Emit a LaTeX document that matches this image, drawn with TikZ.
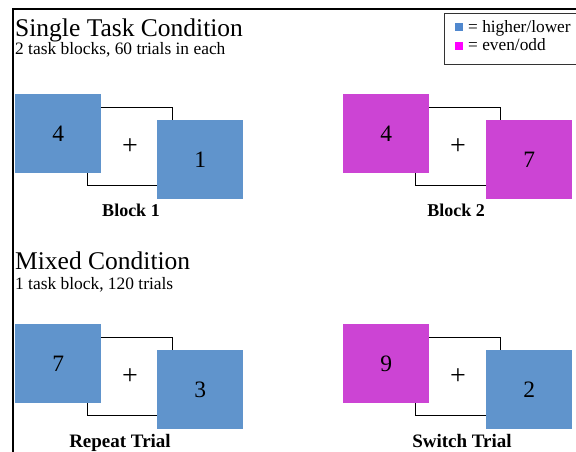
\documentclass[tikz,border=0pt]{standalone}
\usepackage{fontspec}
\setmainfont{Liberation Serif}
\definecolor{tblue}{RGB}{96,148,204}
\definecolor{tpink}{RGB}{204,68,212}
\definecolor{keyblue}{RGB}{80,136,206}
\definecolor{keypink}{RGB}{255,0,255}
\tikzset{
  stimbox/.style={minimum width=86, minimum height=79, inner sep=0, anchor=north west,
    font=\fontsize{23.5}{24}\selectfont},
  bluebox/.style={stimbox, fill=tblue},
  pinkbox/.style={stimbox, fill=tpink},
  fixbox/.style={stimbox, minimum width=85, minimum height=78, fill=white, draw=black, line width=1.1pt,
    font=\fontsize{28}{28}\selectfont},
  heading/.style={anchor=base west, inner sep=0, font=\fontsize{25.5}{30}\selectfont},
  subhead/.style={anchor=base west, inner sep=0, font=\fontsize{17.4}{20}\selectfont},
  caption/.style={anchor=base, inner sep=0, font=\bfseries\fontsize{18}{20}\selectfont},
  keytext/.style={anchor=base west, inner sep=0, font=\fontsize{17.3}{20}\selectfont},
}
\begin{document}
\begin{tikzpicture}[x=1pt, y=-1pt]
\useasboundingbox (0,0) rectangle (576,451);
\clip (0,0) rectangle (576,451);
\fill[white] (0,0) rectangle (576,451);

% outer frame (top and left edges)
\draw[line width=2pt] (13,470) -- (13,9) -- (600,9);

% legend
\node[draw=black!80, line width=1.3pt, minimum width=150, minimum height=51, anchor=north west, inner sep=0] (legend) at (444,13) {};
\node[fill=keyblue, minimum size=8, inner sep=0, anchor=north west] (kb) at (455,23) {};
\node[fill=keypink, minimum size=8, inner sep=0, anchor=north west] (kp) at (455,42) {};
\node[keytext] (kbt) at (468,32) {= higher/lower};
\node[keytext] (kpt) at (468,50) {= even/odd};

% single task condition
\node[heading] (h1) at (15,36) {Single Task Condition};
\node[subhead] (s1) at (15,54) {2 task blocks, 60 trials in each};

\node[fixbox] (f1) at (87,107) {\raisebox{-3pt}{+}};
\node[bluebox] (a1) at (15,94) {4};
\node[bluebox] (b1) at (157,120) {1};
\node[caption] (c1) at (131,216) {Block 1};

\node[fixbox] (f2) at (415,107) {\raisebox{-3pt}{+}};
\node[pinkbox] (a2) at (343,94) {4};
\node[pinkbox] (b2) at (486,120) {7};
\node[caption] (c2) at (456,216) {Block 2};

% mixed condition
\node[heading] (h2) at (15,269) {Mixed Condition};
\node[subhead] (s2) at (15,289) {1 task block, 120 trials};

\node[fixbox] (f3) at (87,337) {\raisebox{-3pt}{+}};
\node[bluebox] (a3) at (15,324) {7};
\node[bluebox] (b3) at (157,350) {3};
\node[caption, font=\bfseries\fontsize{19}{20}\selectfont] (c3) at (120,447) {Repeat Trial};

\node[fixbox] (f4) at (415,337) {\raisebox{-3pt}{+}};
\node[pinkbox] (a4) at (343,324) {9};
\node[bluebox] (b4) at (486,350) {2};
\node[caption, font=\bfseries\fontsize{19}{20}\selectfont] (c4) at (462,447) {Switch Trial};
\end{tikzpicture}
\end{document}
